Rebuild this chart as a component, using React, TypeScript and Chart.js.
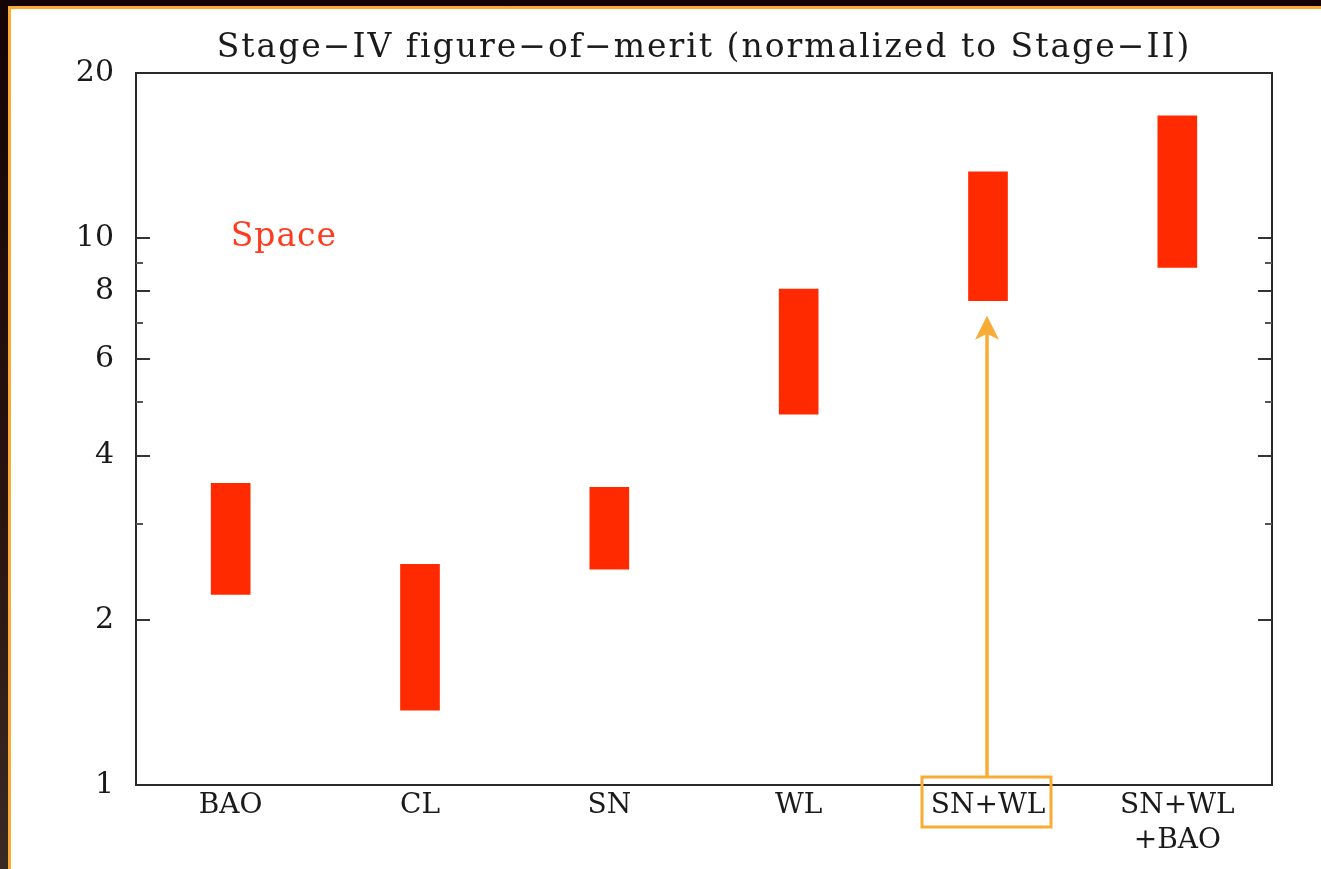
import React, { useEffect, useRef } from "react";
import { Chart, registerables } from "chart.js";

Chart.register(...registerables);

const categories: (string | string[])[] = [["BAO"], ["CL"], ["SN"], ["WL"], ["SN+WL"], ["SN+WL", "+BAO"]];
const lowValues = [2.23, 1.37, 2.48, 4.76, 7.67, 8.83];
const highValues = [3.56, 2.53, 3.5, 8.06, 13.2, 16.7];
const yTicks = [1, 2, 3, 4, 5, 6, 7, 8, 9, 10, 20];
const yTickLabels = ["1", "2", "", "4", "", "6", "", "8", "", "10", "20"];
const titleText = "Stage\u2212IV figure\u2212of\u2212merit (normalized to Stage\u2212II)";
const spaceLabel = "Space";
const highlightIndex = 4;

const SERIF = '"DejaVu Serif", serif';

const decorPlugin = {
  id: "decor",
  afterDatasetsDraw(chart: any) {
    const { ctx, chartArea: a, scales } = chart;
    const x = scales.x;
    const y = scales.y;
    ctx.save();
    // frame
    ctx.strokeStyle = "#2a2a2a";
    ctx.lineWidth = 2;
    ctx.strokeRect(a.left, a.top, a.right - a.left, a.bottom - a.top);
    // inward ticks on both sides
    ctx.lineWidth = 2;
    yTicks.forEach((v, i) => {
      if (v === 1 || v === 20) return;
      const py = Math.round(y.getPixelForValue(v));
      const len = yTickLabels[i] ? 14 : 7;
      ctx.strokeStyle = yTickLabels[i] ? "#333" : "#555";
      ctx.beginPath();
      ctx.moveTo(a.left, py);
      ctx.lineTo(a.left + len, py);
      ctx.moveTo(a.right, py);
      ctx.lineTo(a.right - len, py);
      ctx.stroke();
    });
    // title
    ctx.fillStyle = "#1a1a1a";
    ctx.font = "33px " + SERIF;
    ctx.textAlign = "center";
    ctx.textBaseline = "alphabetic";
    (ctx as any).letterSpacing = "2px";
    ctx.fillText(titleText, (a.left + a.right) / 2, a.top - 16);
    // "Space" label
    ctx.fillStyle = "#ff3b1f";
    ctx.font = "33px " + SERIF;
    (ctx as any).letterSpacing = "1px";
    ctx.textAlign = "left";
    ctx.textBaseline = "middle";
    ctx.fillText(spaceLabel, x.getPixelForValue(0), y.getPixelForValue(10));
    (ctx as any).letterSpacing = "0px";
    // highlight arrow + box
    const ax = x.getPixelForValue(highlightIndex);
    const tipY = y.getPixelForValue(lowValues[highlightIndex]) + 15;
    const boxTop = a.bottom - 8;
    const orange = "#f9ab35";
    ctx.strokeStyle = orange;
    ctx.fillStyle = orange;
    ctx.lineWidth = 3.5;
    ctx.beginPath();
    ctx.moveTo(ax - 1, boxTop);
    ctx.lineTo(ax - 1, tipY + 18);
    ctx.stroke();
    ctx.beginPath();
    ctx.moveTo(ax - 1, tipY);
    ctx.lineTo(ax - 13, tipY + 24);
    ctx.lineTo(ax - 1, tipY + 18);
    ctx.lineTo(ax + 11, tipY + 24);
    ctx.closePath();
    ctx.fill();
    ctx.lineWidth = 3;
    ctx.strokeRect(ax - 66, boxTop, 129, 50);
    ctx.restore();
  },
};

export default function App() {
  const ref = useRef<HTMLCanvasElement | null>(null);
  useEffect(() => {
    document.body.style.margin = "0";
    document.body.style.background = "#120406";
    const canvas = ref.current;
    if (!canvas) return;
    const chart = new Chart(canvas, {
      type: "bar",
      data: {
        labels: categories as any,
        datasets: [
          {
            data: lowValues.map((l, i) => [l, highValues[i]]) as any,
            backgroundColor: "#ff2a00",
            borderWidth: 0,
            barThickness: 39,
          },
        ],
      },
      options: {
        responsive: false,
        animation: false,
        layout: { padding: { top: 73, right: 49, left: 0, bottom: 0 } },
        plugins: { legend: { display: false }, tooltip: { enabled: false }, title: { display: false } },
        scales: {
          x: {
            type: "category",
            grid: { display: false, drawTicks: false },
            border: { display: false },
            ticks: {
              color: "#1a1a1a",
              font: { family: SERIF, size: 28, lineHeight: 1.25 },
              padding: 3,
              maxRotation: 0,
              autoSkip: false,
            },
            afterFit: (s: any) => {
              s.height = 84;
            },
          },
          y: {
            type: "logarithmic",
            min: 1,
            max: 20,
            grid: { display: false, drawTicks: false },
            border: { display: false },
            afterBuildTicks: (s: any) => {
              s.ticks = yTicks.map((v) => ({ value: v }));
            },
            ticks: {
              color: "#1a1a1a",
              font: { family: SERIF, size: 30 },
              padding: 22,
              autoSkip: false,
              callback: (_v: any, i: number) => yTickLabels[i],
            },
            afterFit: (s: any) => {
              s.width = 136;
            },
          },
        },
      },
      plugins: [decorPlugin],
    });
    return () => chart.destroy();
  }, []);

  return (
    <div style={{ position: "relative", width: 1321, height: 869, overflow: "hidden", background: "linear-gradient(180deg,#140406 0%,#2a1410 60%,#3a2a22 100%)" }}>
      <div
        style={{
          position: "absolute",
          left: 8,
          top: 6,
          right: -4,
          bottom: -4,
          background: "#fff",
          border: "3px solid #f9ab35",
        }}
      />
      <canvas ref={ref} width={1321} height={869} style={{ position: "absolute", left: 0, top: 0, width: 1321, height: 869 }} />
    </div>
  );
}
